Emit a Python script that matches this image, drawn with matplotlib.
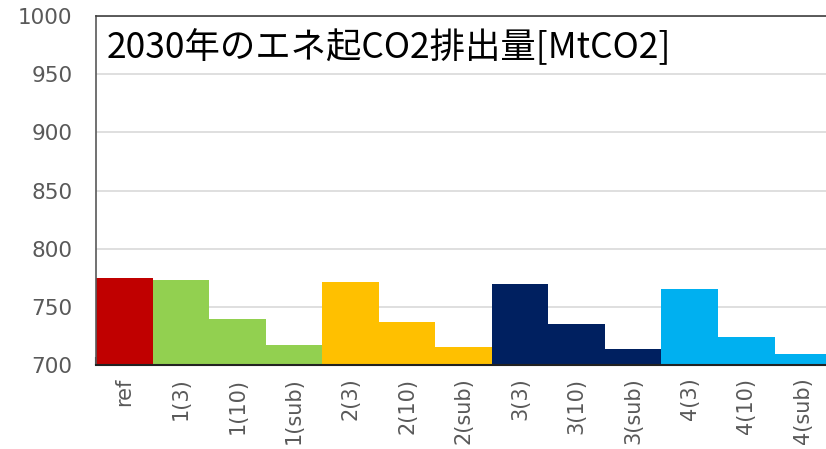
import matplotlib.pyplot as plt
import numpy as np

plt.rcParams['font.family'] = ['Noto Sans CJK JP', 'DejaVu Sans']

# --- data ---
labels = ['ref', '1(3)', '1(10)', '1(sub)', '2(3)', '2(10)', '2(sub)',
          '3(3)', '3(10)', '3(sub)', '4(3)', '4(10)', '4(sub)']
values = [775, 773, 740, 717, 771, 737, 715.5, 769.5, 735, 714, 765, 724, 709.5]
colors = ['#C00000'] + ['#92D050'] * 3 + ['#FFC000'] * 3 + ['#002060'] * 3 + ['#00B0F0'] * 3
title = '2030年のエネ起CO2排出量[MtCO2]'

fig = plt.figure(figsize=(8.26, 4.49), dpi=100)
ax = fig.add_axes([0.1162, 0.187, 0.89, 0.777])

x = np.arange(len(labels))
ax.bar(x, values, width=1.0, color=colors, zorder=2)

ax.set_xlim(-0.5, len(labels) - 0.5)
ax.set_ylim(700, 1000)
ax.set_yticks(np.arange(700, 1001, 50))
ax.yaxis.grid(True, color='#d9d9d9', linewidth=1.2, zorder=0)
ax.set_axisbelow(True)

# labels centred under bars, tick marks on bar boundaries
ax.set_xticks(x)
ax.set_xticklabels(labels, rotation=90, color='#595959', fontsize=15, family='DejaVu Sans')
ax.tick_params(axis='x', which='major', length=0, pad=9)
ax.set_xticks(np.arange(-0.5, len(labels)), minor=True)
ax.tick_params(axis='x', which='minor', direction='in', length=6, width=1.5, color='#222222')
ax.tick_params(axis='y', length=0, labelcolor='#595959', labelsize=15.5, pad=17)
for t in ax.get_yticklabels():
    t.set_family('DejaVu Sans')

ax.spines['left'].set_color('#595959')
ax.spines['left'].set_linewidth(1.2)
ax.spines['top'].set_color('#404040')
ax.spines['top'].set_linewidth(1.2)
ax.spines['bottom'].set_color('#222222')
ax.spines['bottom'].set_linewidth(1.5)
ax.spines['right'].set_visible(False)

ax.text(0.015, 0.911, title, transform=ax.transAxes, ha='left', va='center',
        fontsize=25.5, color='black')

fig.savefig('out.png', dpi=100)
